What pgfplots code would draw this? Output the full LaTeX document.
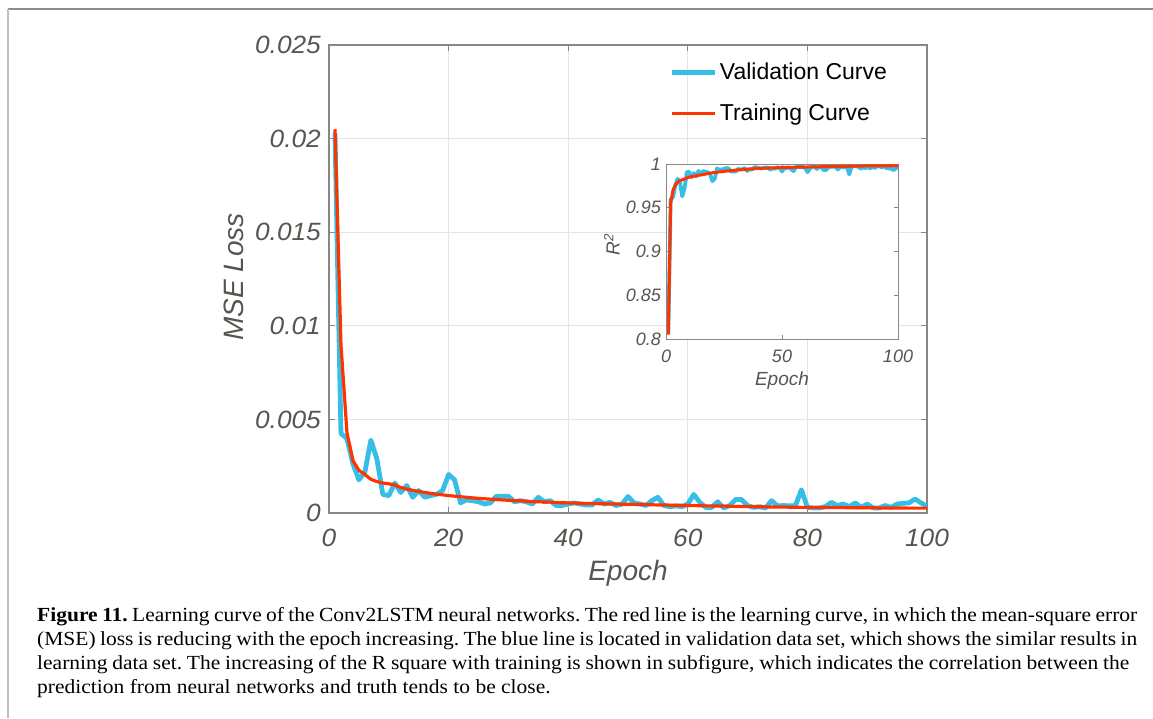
\documentclass[border=0pt]{standalone}
\usepackage{pgfplots}
\pgfplotsset{compat=1.18}
\usepackage{pgfplotstable}
\usepackage{fontspec}
\setmainfont{Liberation Serif}
\newfontfamily\capfont[FakeStretch=1.075]{Liberation Serif}
\newfontfamily\arial{Liberation Sans}
\newfontfamily\arialw[FakeStretch=1.05]{Liberation Sans}
\definecolor{valblue}{RGB}{53,190,230}
\definecolor{trainred}{RGB}{255,51,0}
\definecolor{txtgray}{RGB}{88,84,80}
\definecolor{axgray}{RGB}{135,135,135}
\definecolor{gridgray}{RGB}{228,228,228}
\definecolor{frameA}{RGB}{140,140,140}
\definecolor{frameB}{RGB}{190,190,190}

\pgfplotstableread{
epoch vmse tmse vr tr
1 0.0203 0.0205 0.8067 0.805
2 0.00425 0.0090 0.9595 0.955
3 0.00398 0.0043 0.9621 0.970
4 0.00263 0.0028 0.9750 0.976
5 0.00177 0.00228 0.9831 0.979
6 0.00219 0.00206 0.9791 0.981
7 0.00389 0.0018 0.9630 0.982
8 0.0029 0.00168 0.9724 0.983
9 0.00099 0.0016 0.9906 0.984
10 0.00093 0.00156 0.9911 0.985
11 0.0016 0.0015 0.9848 0.9855
12 0.0011 0.00136 0.9895 0.986
13 0.00147 0.00128 0.9860 0.9865
14 0.00084 0.00121 0.9920 0.987
15 0.0012 0.00115 0.9886 0.9875
16 0.00084 0.0011 0.9920 0.988
17 0.00093 0.00105 0.9911 0.9885
18 0.001 0.001 0.9905 0.989
19 0.0012 0.00097 0.9886 0.9895
20 0.00206 0.00093 0.9804 0.990
21 0.00177 0.0009 0.9831 0.9903
22 0.00054 0.00087 0.9949 0.9906
23 0.0007 0.00084 0.9933 0.991
24 0.00066 0.00081 0.9937 0.9913
25 0.0006 0.00078 0.9943 0.9916
26 0.00048 0.00076 0.9954 0.9919
27 0.00054 0.00074 0.9949 0.9922
28 0.0009 0.00072 0.9914 0.9925
29 0.0009 0.0007 0.9914 0.9927
30 0.0009 0.00068 0.9914 0.993
31 0.0006 0.00066 0.9943 0.9932
32 0.00066 0.00065 0.9937 0.9934
33 0.0006 0.00063 0.9943 0.9936
34 0.00048 0.00061 0.9954 0.9938
35 0.00084 0.0006 0.9920 0.994
36 0.0006 0.00059 0.9943 0.9942
37 0.00066 0.00058 0.9937 0.9944
38 0.0004 0.00056 0.9962 0.9946
39 0.0004 0.00055 0.9962 0.9948
40 0.00048 0.00054 0.9954 0.995
41 0.00054 0.00053 0.9949 0.9951
42 0.00048 0.00052 0.9954 0.9952
43 0.00043 0.00051 0.9959 0.9953
44 0.00043 0.00051 0.9959 0.9954
45 0.0007 0.0005 0.9933 0.9955
46 0.00048 0.00049 0.9954 0.9956
47 0.00057 0.00048 0.9946 0.9957
48 0.0004 0.00048 0.9962 0.9958
49 0.00048 0.00047 0.9954 0.9959
50 0.00088 0.00047 0.9916 0.996
51 0.00054 0.00046 0.9949 0.9961
52 0.00048 0.00045 0.9954 0.9961
53 0.0004 0.00045 0.9962 0.9962
54 0.00066 0.00044 0.9937 0.9962
55 0.00084 0.00043 0.9920 0.9963
56 0.0004 0.00043 0.9962 0.9963
57 0.00034 0.00042 0.9968 0.9964
58 0.00038 0.00041 0.9964 0.9964
59 0.00034 0.00041 0.9968 0.9965
60 0.00048 0.0004 0.9954 0.9965
61 0.00099 0.0004 0.9906 0.9966
62 0.00057 0.00039 0.9946 0.9966
63 0.0003 0.00038 0.9971 0.9967
64 0.0003 0.00038 0.9971 0.9967
65 0.0006 0.00037 0.9943 0.9968
66 0.00027 0.00037 0.9974 0.9968
67 0.0004 0.00036 0.9962 0.9969
68 0.00072 0.00035 0.9931 0.9969
69 0.00072 0.00035 0.9931 0.997
70 0.0004 0.00034 0.9962 0.997
71 0.0003 0.00034 0.9971 0.997
72 0.00034 0.00033 0.9968 0.9971
73 0.00027 0.00033 0.9974 0.9971
74 0.00066 0.00032 0.9937 0.9972
75 0.00038 0.00032 0.9964 0.9972
76 0.0004 0.00032 0.9962 0.9973
77 0.00038 0.00031 0.9964 0.9973
78 0.0004 0.00031 0.9962 0.9974
79 0.00124 0.0003 0.9882 0.9974
80 0.0003 0.0003 0.9971 0.9975
81 0.00027 0.0003 0.9974 0.9975
82 0.00027 0.0003 0.9974 0.9976
83 0.00034 0.00029 0.9968 0.9976
84 0.00057 0.00029 0.9946 0.9977
85 0.0004 0.00029 0.9962 0.9977
86 0.00048 0.00029 0.9954 0.9978
87 0.00034 0.00028 0.9968 0.9978
88 0.00054 0.00028 0.9949 0.9979
89 0.0003 0.00028 0.9971 0.9979
90 0.00048 0.00028 0.9954 0.998
91 0.00027 0.00028 0.9974 0.998
92 0.00027 0.00027 0.9974 0.998
93 0.0004 0.00027 0.9962 0.998
94 0.0003 0.00027 0.9971 0.998
95 0.00048 0.00027 0.9954 0.998
96 0.00052 0.00027 0.9950 0.998
97 0.00054 0.00026 0.9949 0.998
98 0.00075 0.00026 0.9929 0.998
99 0.00054 0.00026 0.9949 0.998
100 0.00036 0.00026 0.9966 0.998
}\curves

\begin{document}
\frenchspacing
\begin{tikzpicture}[x=1pt,y=1pt]
\path[use as bounding box] (0,0) rectangle (1153,-718);
\draw[frameA, line width=1.6pt] (8,-9) -- (1153,-9);
\draw[frameB, line width=1.6pt] (8,-9) -- (8,-718);

\begin{axis}[
  at={(329pt,-513pt)}, anchor=south west,
  scale only axis, width=598pt, height=468pt,
  xmin=0, xmax=100, ymin=0, ymax=0.025,
  xtick={0,20,40,60,80,100},
  ytick={0,0.005,0.01,0.015,0.02,0.025},
  scaled y ticks=false,
  yticklabel style={/pgf/number format/fixed, /pgf/number format/precision=3},
  /pgf/number format/assume math mode=true,
  grid=major, major grid style={gridgray, line width=0.8pt},
  axis line style={axgray, line width=1.1pt},
  tick style={axgray, line width=1.1pt},
  tick align=inside, major tick length=6pt,
  ticklabel style={font=\arialw\itshape\fontsize{25}{25}\selectfont, text=txtgray},
  xticklabel style={anchor=north, inner sep=0pt, yshift=-16pt},
  yticklabel style={anchor=east, inner sep=0pt, xshift=-8pt},
  xlabel={Epoch}, ylabel={MSE Loss},
  label style={font=\arial\itshape\fontsize{28}{28}\selectfont, text=txtgray},
  xlabel style={at={(axis description cs:0.5,-0.128)}, anchor=center},
  ylabel style={at={(axis description cs:-0.159,0.504)}, anchor=center},
  legend style={draw=none, fill=none, at={(axis description cs:0.570,0.966)},
    anchor=north west, inner sep=0pt, row sep=19pt,
    font=\arial\fontsize{23}{23}\selectfont, text=black},
  legend cell align=left,
  legend image code/.code={\draw[#1] (0pt,0pt) -- (43pt,0pt);},
]
\addplot[valblue, line width=4.8pt, line join=round] table[x=epoch, y=vmse] {\curves};
\addlegendentry{Validation Curve}
\addplot[trainred, line width=3.2pt, line join=round] table[x=epoch, y=tmse] {\curves};
\addlegendentry{Training Curve}
\end{axis}

\begin{axis}[
  at={(666pt,-339pt)}, anchor=south west,
  scale only axis, width=232pt, height=175pt,
  axis background/.style={fill=white},
  xmin=0, xmax=100, ymin=0.8, ymax=1,
  xtick={0,50,100}, ytick={0.8,0.85,0.9,0.95,1},
  yticklabel style={/pgf/number format/fixed, /pgf/number format/precision=2},
  /pgf/number format/assume math mode=true,
  axis line style={axgray, line width=1pt},
  tick style={axgray, line width=1pt},
  tick align=inside, major tick length=4pt,
  ticklabel style={font=\arial\itshape\fontsize{18}{18}\selectfont, text=txtgray},
  xticklabel style={anchor=north, inner sep=0pt, yshift=-11pt},
  yticklabel style={anchor=east, inner sep=0pt, xshift=-5pt},
  xlabel={Epoch}, ylabel={R\textsuperscript{2}},
  label style={font=\arial\itshape\fontsize{19}{19}\selectfont, text=txtgray},
  xlabel style={at={(axis description cs:0.5,-0.24)}, anchor=center},
  ylabel style={at={(axis description cs:-0.233,0.54)}, anchor=center},
]
\addplot[valblue, line width=3.8pt, line join=round] table[x=epoch, y=vr] {\curves};
\addplot[trainred, line width=3pt, line join=round] table[x=epoch, y=tr] {\curves};
\end{axis}

\node[anchor=base west, inner sep=0pt, font=\capfont\fontsize{20}{20}\selectfont] at (37,-621)
  {\makebox[1100pt][s]{\textbf{Figure 11.} Learning curve of the Conv2LSTM neural networks. The red line is the learning curve, in which the mean-square error}};
\node[anchor=base west, inner sep=0pt, font=\capfont\fontsize{20}{20}\selectfont] at (37,-645)
  {\makebox[1100pt][s]{(MSE) loss is reducing with the epoch increasing. The blue line is located in validation data set, which shows the similar results in}};
\node[anchor=base west, inner sep=0pt, font=\capfont\fontsize{20}{20}\selectfont] at (37,-669)
  {\makebox[1092pt][s]{learning data set. The increasing of the R square with training is shown in subfigure, which indicates the correlation between the}};
\node[anchor=base west, inner sep=0pt, font=\capfont\fontsize{20}{20}\selectfont] at (37,-693)
  {prediction from neural networks and truth tends to be close.};
\end{tikzpicture}
\end{document}
